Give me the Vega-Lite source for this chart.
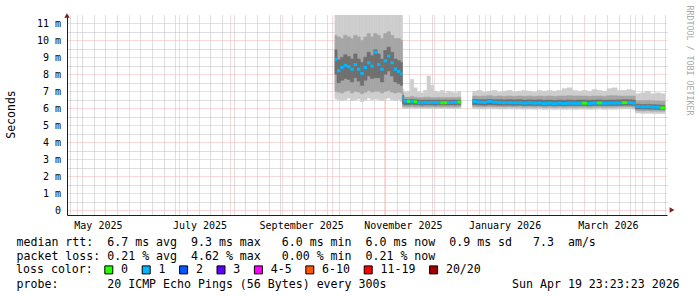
{
"$schema": "https://vega.github.io/schema/vega-lite/v6.json",
"width": 600, "height": 200,
"autosize": {"type": "none"},
"padding": {"left": 67, "top": 15, "right": 30, "bottom": 82},
"background": "#ffffff",
"config": {"view": {"stroke": null}, "font": "DejaVu Sans Mono",
  "axis": {"labelFont": "DejaVu Sans Mono", "titleFont": "DejaVu Sans Mono", "titleFontWeight": "normal", "labelColor": "#000000", "titleColor": "#000000"}},
"datasets": {
"ping": [
{"t":"2025-10-02T18:00","t2":"2025-10-04T00:00","mn":6.55,"lo":7.0,"q1":8.0,"md":8.87,"q3":9.45,"hi":10.3,"mx":11.6,"loss":"1"},
{"t":"2025-10-04T00:00","t2":"2025-10-06T00:00","mn":6.5,"lo":6.95,"q1":7.5,"md":8.21,"q3":8.85,"hi":10.2,"mx":11.6,"loss":"1"},
{"t":"2025-10-06T00:00","t2":"2025-10-08T00:00","mn":6.45,"lo":6.9,"q1":7.65,"md":8.4,"q3":9.0,"hi":10.1,"mx":11.6,"loss":"1"},
{"t":"2025-10-08T00:00","t2":"2025-10-10T00:00","mn":6.5,"lo":7.0,"q1":7.75,"md":8.53,"q3":9.15,"hi":10.3,"mx":11.6,"loss":"1"},
{"t":"2025-10-10T00:00","t2":"2025-10-12T00:00","mn":6.6,"lo":7.05,"q1":7.7,"md":8.45,"q3":9.05,"hi":10.2,"mx":11.6,"loss":"1"},
{"t":"2025-10-12T00:00","t2":"2025-10-14T00:00","mn":6.45,"lo":6.9,"q1":7.55,"md":8.3,"q3":8.9,"hi":10.1,"mx":11.6,"loss":"1"},
{"t":"2025-10-14T00:00","t2":"2025-10-16T00:00","mn":6.5,"lo":7.0,"q1":7.8,"md":8.58,"q3":9.2,"hi":10.3,"mx":11.6,"loss":"1"},
{"t":"2025-10-16T00:00","t2":"2025-10-18T00:00","mn":6.55,"lo":6.95,"q1":7.6,"md":8.3,"q3":8.9,"hi":10.2,"mx":11.6,"loss":"1"},
{"t":"2025-10-18T00:00","t2":"2025-10-20T00:00","mn":6.4,"lo":6.85,"q1":7.35,"md":8.05,"q3":8.7,"hi":10.0,"mx":11.6,"loss":"1"},
{"t":"2025-10-20T00:00","t2":"2025-10-22T00:00","mn":6.5,"lo":6.95,"q1":7.65,"md":8.4,"q3":9.0,"hi":10.2,"mx":11.6,"loss":"1"},
{"t":"2025-10-22T00:00","t2":"2025-10-24T00:00","mn":6.6,"lo":7.05,"q1":7.9,"md":8.68,"q3":9.3,"hi":10.4,"mx":11.6,"loss":"1"},
{"t":"2025-10-24T00:00","t2":"2025-10-26T00:00","mn":6.5,"lo":6.95,"q1":7.75,"md":8.48,"q3":9.1,"hi":10.2,"mx":11.6,"loss":"1"},
{"t":"2025-10-26T00:00","t2":"2025-10-28T00:00","mn":6.55,"lo":7.0,"q1":7.8,"md":9.3,"q3":9.45,"hi":10.4,"mx":11.6,"loss":"1"},
{"t":"2025-10-28T00:00","t2":"2025-10-30T00:00","mn":6.5,"lo":7.0,"q1":7.8,"md":8.58,"q3":9.2,"hi":10.3,"mx":11.6,"loss":"1"},
{"t":"2025-10-30T00:00","t2":"2025-11-01T00:00","mn":6.45,"lo":6.9,"q1":7.55,"md":8.3,"q3":8.9,"hi":10.1,"mx":11.6,"loss":"1"},
{"t":"2025-11-01T00:00","t2":"2025-11-03T00:00","mn":6.55,"lo":7.0,"q1":8.0,"md":8.79,"q3":9.4,"hi":10.4,"mx":11.6,"loss":"1"},
{"t":"2025-11-03T00:00","t2":"2025-11-05T00:00","mn":6.6,"lo":7.05,"q1":8.2,"md":9.07,"q3":9.6,"hi":10.5,"mx":11.6,"loss":"1"},
{"t":"2025-11-05T00:00","t2":"2025-11-07T00:00","mn":6.5,"lo":6.95,"q1":7.9,"md":8.68,"q3":9.3,"hi":10.3,"mx":11.6,"loss":"1"},
{"t":"2025-11-07T00:00","t2":"2025-11-09T00:00","mn":6.45,"lo":6.9,"q1":7.55,"md":8.3,"q3":8.9,"hi":10.1,"mx":11.6,"loss":"1"},
{"t":"2025-11-09T00:00","t2":"2025-11-11T00:00","mn":6.5,"lo":6.95,"q1":7.45,"md":8.16,"q3":8.8,"hi":10.1,"mx":11.6,"loss":"1"},
{"t":"2025-11-11T00:00","t2":"2025-11-12T06:00","mn":6.4,"lo":6.9,"q1":7.35,"md":8.02,"q3":8.7,"hi":10.0,"mx":11.6,"loss":"1"},
{"t":"2025-11-12T06:00","t2":"2025-11-13T00:00","mn":6.0,"lo":6.1,"q1":6.25,"md":6.62,"q3":6.75,"hi":6.9,"mx":7.1,"loss":"1"},
{"t":"2025-11-13T00:00","t2":"2025-11-15T00:00","mn":5.98,"lo":6.08,"q1":6.2,"md":6.42,"q3":6.52,"hi":6.65,"mx":6.95,"loss":"1"},
{"t":"2025-11-15T00:00","t2":"2025-11-17T00:00","mn":5.97,"lo":6.08,"q1":6.2,"md":6.4,"q3":6.5,"hi":6.65,"mx":7.0,"loss":"0"},
{"t":"2025-11-17T00:00","t2":"2025-11-19T00:00","mn":5.98,"lo":6.1,"q1":6.22,"md":6.4,"q3":6.52,"hi":6.7,"mx":7.7,"loss":"1"},
{"t":"2025-11-19T00:00","t2":"2025-11-21T00:00","mn":5.97,"lo":6.08,"q1":6.2,"md":6.38,"q3":6.5,"hi":6.65,"mx":7.2,"loss":"0"},
{"t":"2025-11-21T00:00","t2":"2025-11-23T00:00","mn":5.98,"lo":6.08,"q1":6.2,"md":6.33,"q3":6.48,"hi":6.62,"mx":6.95,"loss":"1"},
{"t":"2025-11-23T00:00","t2":"2025-11-25T00:00","mn":5.97,"lo":6.07,"q1":6.18,"md":6.32,"q3":6.47,"hi":6.62,"mx":6.9,"loss":"1"},
{"t":"2025-11-25T00:00","t2":"2025-11-27T00:00","mn":5.98,"lo":6.08,"q1":6.2,"md":6.34,"q3":6.48,"hi":6.65,"mx":7.05,"loss":"1"},
{"t":"2025-11-27T00:00","t2":"2025-11-29T00:00","mn":5.97,"lo":6.08,"q1":6.2,"md":6.33,"q3":6.48,"hi":6.65,"mx":7.9,"loss":"1"},
{"t":"2025-11-29T00:00","t2":"2025-12-01T00:00","mn":5.98,"lo":6.08,"q1":6.2,"md":6.34,"q3":6.48,"hi":6.62,"mx":7.35,"loss":"1"},
{"t":"2025-12-01T00:00","t2":"2025-12-03T00:00","mn":5.97,"lo":6.07,"q1":6.18,"md":6.33,"q3":6.47,"hi":6.62,"mx":7.0,"loss":"1"},
{"t":"2025-12-03T00:00","t2":"2025-12-05T00:00","mn":5.98,"lo":6.08,"q1":6.2,"md":6.34,"q3":6.48,"hi":6.63,"mx":6.95,"loss":"1"},
{"t":"2025-12-05T00:00","t2":"2025-12-07T00:00","mn":5.97,"lo":6.07,"q1":6.19,"md":6.32,"q3":6.47,"hi":6.62,"mx":7.05,"loss":"0"},
{"t":"2025-12-07T00:00","t2":"2025-12-09T00:00","mn":5.98,"lo":6.08,"q1":6.2,"md":6.33,"q3":6.48,"hi":6.63,"mx":6.9,"loss":"0"},
{"t":"2025-12-09T00:00","t2":"2025-12-11T00:00","mn":5.97,"lo":6.07,"q1":6.19,"md":6.33,"q3":6.47,"hi":6.62,"mx":7.0,"loss":"1"},
{"t":"2025-12-11T00:00","t2":"2025-12-13T00:00","mn":5.98,"lo":6.08,"q1":6.2,"md":6.34,"q3":6.48,"hi":6.63,"mx":6.95,"loss":"1"},
{"t":"2025-12-13T00:00","t2":"2025-12-15T00:00","mn":5.97,"lo":6.07,"q1":6.19,"md":6.35,"q3":6.48,"hi":6.62,"mx":6.9,"loss":"1"},
{"t":"2025-12-15T06:00","t2":"2025-12-17T06:00","mn":5.98,"lo":6.08,"q1":6.2,"md":6.36,"q3":6.48,"hi":6.65,"mx":7.0,"loss":"0"},
{"t":"2025-12-24T09:00","t2":"2025-12-27T00:00","mn":5.97,"lo":6.1,"q1":6.2,"md":6.4,"q3":6.52,"hi":6.72,"mx":7.0,"loss":"1"},
{"t":"2025-12-27T00:00","t2":"2025-12-30T00:00","mn":5.96,"lo":6.08,"q1":6.19,"md":6.36,"q3":6.5,"hi":6.7,"mx":7.05,"loss":"1"},
{"t":"2025-12-30T00:00","t2":"2026-01-02T00:00","mn":5.95,"lo":6.08,"q1":6.18,"md":6.35,"q3":6.5,"hi":6.72,"mx":6.95,"loss":"1"},
{"t":"2026-01-02T00:00","t2":"2026-01-05T00:00","mn":5.97,"lo":6.1,"q1":6.2,"md":6.4,"q3":6.52,"hi":6.74,"mx":7.0,"loss":"1"},
{"t":"2026-01-05T00:00","t2":"2026-01-08T00:00","mn":5.96,"lo":6.08,"q1":6.19,"md":6.36,"q3":6.5,"hi":6.7,"mx":7.05,"loss":"1"},
{"t":"2026-01-08T00:00","t2":"2026-01-11T00:00","mn":5.95,"lo":6.08,"q1":6.18,"md":6.34,"q3":6.5,"hi":6.72,"mx":6.95,"loss":"1"},
{"t":"2026-01-11T00:00","t2":"2026-01-14T00:00","mn":5.95,"lo":6.07,"q1":6.18,"md":6.33,"q3":6.49,"hi":6.7,"mx":7.0,"loss":"1"},
{"t":"2026-01-14T00:00","t2":"2026-01-17T00:00","mn":5.96,"lo":6.08,"q1":6.18,"md":6.33,"q3":6.5,"hi":6.72,"mx":7.05,"loss":"1"},
{"t":"2026-01-17T00:00","t2":"2026-01-20T00:00","mn":5.95,"lo":6.07,"q1":6.17,"md":6.32,"q3":6.49,"hi":6.7,"mx":6.95,"loss":"1"},
{"t":"2026-01-20T00:00","t2":"2026-01-23T00:00","mn":5.95,"lo":6.08,"q1":6.18,"md":6.33,"q3":6.5,"hi":6.72,"mx":7.0,"loss":"1"},
{"t":"2026-01-23T00:00","t2":"2026-01-26T00:00","mn":5.94,"lo":6.06,"q1":6.16,"md":6.3,"q3":6.48,"hi":6.7,"mx":7.05,"loss":"1"},
{"t":"2026-01-26T00:00","t2":"2026-01-29T00:00","mn":5.95,"lo":6.07,"q1":6.17,"md":6.32,"q3":6.49,"hi":6.72,"mx":7.0,"loss":"1"},
{"t":"2026-01-29T00:00","t2":"2026-02-01T00:00","mn":5.94,"lo":6.06,"q1":6.16,"md":6.3,"q3":6.48,"hi":6.7,"mx":6.95,"loss":"1"},
{"t":"2026-02-01T00:00","t2":"2026-02-04T00:00","mn":5.95,"lo":6.07,"q1":6.17,"md":6.31,"q3":6.49,"hi":6.72,"mx":7.05,"loss":"1"},
{"t":"2026-02-04T00:00","t2":"2026-02-07T00:00","mn":5.93,"lo":6.05,"q1":6.15,"md":6.28,"q3":6.47,"hi":6.7,"mx":7.0,"loss":"1"},
{"t":"2026-02-07T00:00","t2":"2026-02-10T00:00","mn":5.94,"lo":6.06,"q1":6.16,"md":6.3,"q3":6.48,"hi":6.72,"mx":7.05,"loss":"1"},
{"t":"2026-02-10T00:00","t2":"2026-02-13T00:00","mn":5.93,"lo":6.05,"q1":6.15,"md":6.27,"q3":6.46,"hi":6.7,"mx":7.0,"loss":"1"},
{"t":"2026-02-13T00:00","t2":"2026-02-16T00:00","mn":5.94,"lo":6.06,"q1":6.16,"md":6.3,"q3":6.48,"hi":6.72,"mx":7.05,"loss":"1"},
{"t":"2026-02-16T00:00","t2":"2026-02-19T00:00","mn":5.93,"lo":6.05,"q1":6.15,"md":6.28,"q3":6.47,"hi":6.72,"mx":7.15,"loss":"1"},
{"t":"2026-02-19T00:00","t2":"2026-02-22T00:00","mn":5.94,"lo":6.06,"q1":6.16,"md":6.3,"q3":6.48,"hi":6.74,"mx":7.2,"loss":"1"},
{"t":"2026-02-22T00:00","t2":"2026-02-25T00:00","mn":5.93,"lo":6.05,"q1":6.16,"md":6.29,"q3":6.47,"hi":6.72,"mx":7.05,"loss":"1"},
{"t":"2026-02-25T00:00","t2":"2026-02-28T00:00","mn":5.94,"lo":6.06,"q1":6.16,"md":6.3,"q3":6.48,"hi":6.72,"mx":7.0,"loss":"1"},
{"t":"2026-02-28T00:00","t2":"2026-03-03T00:00","mn":5.94,"lo":6.06,"q1":6.16,"md":6.3,"q3":6.48,"hi":6.72,"mx":7.05,"loss":"0"},
{"t":"2026-03-03T00:00","t2":"2026-03-06T00:00","mn":5.93,"lo":6.05,"q1":6.15,"md":6.28,"q3":6.47,"hi":6.7,"mx":7.0,"loss":"1"},
{"t":"2026-03-06T00:00","t2":"2026-03-09T00:00","mn":5.94,"lo":6.06,"q1":6.16,"md":6.3,"q3":6.48,"hi":6.72,"mx":7.1,"loss":"1"},
{"t":"2026-03-09T00:00","t2":"2026-03-12T00:00","mn":5.95,"lo":6.07,"q1":6.17,"md":6.31,"q3":6.49,"hi":6.72,"mx":7.05,"loss":"0"},
{"t":"2026-03-12T00:00","t2":"2026-03-15T00:00","mn":5.93,"lo":6.05,"q1":6.16,"md":6.29,"q3":6.47,"hi":6.7,"mx":7.0,"loss":"1"},
{"t":"2026-03-15T00:00","t2":"2026-03-18T00:00","mn":5.94,"lo":6.06,"q1":6.16,"md":6.3,"q3":6.48,"hi":6.74,"mx":7.15,"loss":"1"},
{"t":"2026-03-18T00:00","t2":"2026-03-21T00:00","mn":5.94,"lo":6.06,"q1":6.16,"md":6.3,"q3":6.48,"hi":6.74,"mx":7.2,"loss":"1"},
{"t":"2026-03-21T00:00","t2":"2026-03-24T00:00","mn":5.95,"lo":6.07,"q1":6.17,"md":6.31,"q3":6.49,"hi":6.72,"mx":7.05,"loss":"1"},
{"t":"2026-03-24T00:00","t2":"2026-03-27T00:00","mn":5.96,"lo":6.08,"q1":6.18,"md":6.33,"q3":6.5,"hi":6.72,"mx":7.05,"loss":"0"},
{"t":"2026-03-27T00:00","t2":"2026-03-30T00:00","mn":5.96,"lo":6.08,"q1":6.18,"md":6.33,"q3":6.5,"hi":6.72,"mx":7.1,"loss":"1"},
{"t":"2026-03-30T00:00","t2":"2026-04-01T00:00","mn":5.94,"lo":6.06,"q1":6.16,"md":6.3,"q3":6.48,"hi":6.72,"mx":7.05,"loss":"1"},
{"t":"2026-04-01T00:00","t2":"2026-04-04T00:00","mn":5.72,"lo":5.85,"q1":5.96,"md":6.1,"q3":6.24,"hi":6.45,"mx":6.85,"loss":"1"},
{"t":"2026-04-04T00:00","t2":"2026-04-07T00:00","mn":5.7,"lo":5.84,"q1":5.95,"md":6.08,"q3":6.22,"hi":6.45,"mx":6.9,"loss":"1"},
{"t":"2026-04-07T00:00","t2":"2026-04-10T00:00","mn":5.71,"lo":5.85,"q1":5.95,"md":6.09,"q3":6.23,"hi":6.46,"mx":7.0,"loss":"1"},
{"t":"2026-04-10T00:00","t2":"2026-04-13T00:00","mn":5.7,"lo":5.83,"q1":5.94,"md":6.07,"q3":6.21,"hi":6.44,"mx":6.85,"loss":"1"},
{"t":"2026-04-13T00:00","t2":"2026-04-16T00:00","mn":5.69,"lo":5.83,"q1":5.93,"md":6.06,"q3":6.2,"hi":6.43,"mx":6.9,"loss":"1"},
{"t":"2026-04-16T00:00","t2":"2026-04-18T18:00","mn":5.68,"lo":5.82,"q1":5.92,"md":6.02,"q3":6.18,"hi":6.42,"mx":6.85,"loss":"0"}
],
"xarrow": [{"t": "2026-04-19T23:23:23", "ms": 0}],
"yarrow": [{"t": "2025-04-24T23:23:23", "ms": 11.2}]
},
"resolve": {"axis": {"x": "independent", "y": "independent"}},
"layer": [
{
 "data": {"name": "ping"},
 "mark": {"type": "rect", "color": "#cdcdcd", "stroke": "#cdcdcd", "strokeWidth": 0.6, "clip": true},
 "encoding": {
  "x": {"field": "t", "type": "temporal",
   "scale": {"domain": [{"year":2025,"month":4,"date":24,"hours":23,"minutes":23,"seconds":23},{"year":2026,"month":4,"date":19,"hours":23,"minutes":23,"seconds":23}], "nice": false},
   "axis": {"orient": "bottom", "grid": true, "gridColor": "#bdbdbd", "gridDash": [1,1], "gridWidth": 1, "domain": false, "labels": false, "ticks": false, "title": null,
    "values": [
     {"year":2025,"month":4,"date":27},{"year":2025,"month":5,"date":4},{"year":2025,"month":5,"date":11},{"year":2025,"month":5,"date":18},{"year":2025,"month":5,"date":25},
     {"year":2025,"month":6,"date":8},{"year":2025,"month":6,"date":15},{"year":2025,"month":6,"date":22},{"year":2025,"month":6,"date":29},
     {"year":2025,"month":7,"date":6},{"year":2025,"month":7,"date":13},{"year":2025,"month":7,"date":20},{"year":2025,"month":7,"date":27},
     {"year":2025,"month":8,"date":3},{"year":2025,"month":8,"date":10},{"year":2025,"month":8,"date":17},{"year":2025,"month":8,"date":24},{"year":2025,"month":8,"date":31},
     {"year":2025,"month":9,"date":7},{"year":2025,"month":9,"date":14},{"year":2025,"month":9,"date":21},{"year":2025,"month":9,"date":28},
     {"year":2025,"month":10,"date":5},{"year":2025,"month":10,"date":12},{"year":2025,"month":10,"date":19},{"year":2025,"month":10,"date":26},
     {"year":2025,"month":11,"date":2},{"year":2025,"month":11,"date":9},{"year":2025,"month":11,"date":16},{"year":2025,"month":11,"date":23},{"year":2025,"month":11,"date":30},
     {"year":2025,"month":12,"date":7},{"year":2025,"month":12,"date":14},{"year":2025,"month":12,"date":21},{"year":2025,"month":12,"date":28},
     {"year":2026,"month":1,"date":4},{"year":2026,"month":1,"date":11},{"year":2026,"month":1,"date":18},{"year":2026,"month":1,"date":25},
     {"year":2026,"month":2,"date":8},{"year":2026,"month":2,"date":15},{"year":2026,"month":2,"date":22},
     {"year":2026,"month":3,"date":8},{"year":2026,"month":3,"date":15},{"year":2026,"month":3,"date":22},{"year":2026,"month":3,"date":29},
     {"year":2026,"month":4,"date":5},{"year":2026,"month":4,"date":12},{"year":2026,"month":4,"date":19}
    ]}},
  "x2": {"field": "t2"},
  "y": {"field": "mn", "type": "quantitative", "scale": {"domain": [0, 11.2], "nice": false, "zero": false},
   "axis": {"orient": "right", "values": [0.5,1.5,2.5,3.5,4.5,5.5,6.5,7.5,8.5,9.5,10.5], "grid": true, "gridColor": "#bdbdbd", "gridDash": [1,1], "domain": false, "labels": false, "ticks": false,
    "title": "RRDTOOL / TOBI OETIKER", "titleAngle": 90, "titleX": 21, "titleY": 45, "titleAlign": "center", "titleBaseline": "middle", "titleFontSize": 8.3, "titleColor": "#a8a8a8"}},
  "y2": {"field": "mx"}
 }
},
{
 "data": {"name": "ping"},
 "mark": {"type": "rect", "color": "#a6a6a6", "stroke": "#a6a6a6", "strokeWidth": 0.6, "clip": true},
 "encoding": {
  "x": {"field": "t", "type": "temporal",
   "scale": {"domain": [{"year":2025,"month":4,"date":24,"hours":23,"minutes":23,"seconds":23},{"year":2026,"month":4,"date":19,"hours":23,"minutes":23,"seconds":23}], "nice": false},
   "axis": {"orient": "bottom", "grid": false, "ticks": false, "tickSize": 0, "labelPadding": 5.5, "labelFontSize": 10, "labelFlush": false, "labelOverlap": false, "labelBound": false,
    "labelExpr": "timeFormat(datum.value, '%B %Y')",
    "values": [{"year":2025,"month":5,"date":13,"hours":12},{"year":2025,"month":7,"date":13,"hours":12},{"year":2025,"month":9,"date":12,"hours":12},{"year":2025,"month":11,"date":12,"hours":12},{"year":2026,"month":1,"date":12,"hours":12},{"year":2026,"month":3,"date":15,"hours":12}],
    "domain": true, "domainColor": "#1f1f1f", "domainWidth": 1,
    "title": [
     "median rtt:\u00a0\u00a06.7 ms avg\u00a0\u00a09.3 ms max\u00a0\u00a0\u00a06.0 ms min\u00a0\u00a06.0 ms now\u00a0\u00a00.9 ms sd\u00a0\u00a0\u00a07.3\u00a0\u00a0am/s",
     "packet loss:\u00a00.21 % avg\u00a0\u00a04.62 % max\u00a0\u00a0\u00a00.00 % min\u00a0\u00a00.21 % now"
    ],
    "titleX": -51, "titleY": 30, "titleAlign": "left", "titleAnchor": "start", "titleBaseline": "alphabetic", "titleFontSize": 11.6, "titleLineHeight": 14}},
  "x2": {"field": "t2"},
  "y": {"field": "lo", "type": "quantitative", "scale": {"domain": [0, 11.2], "nice": false, "zero": false},
   "axis": {"orient": "left", "values": [0,1,2,3,4,5,6,7,8,9,10,11], "grid": true, "gridColor": "#f0b4b4", "gridDash": [1,1], "gridWidth": 1,
    "ticks": false, "tickSize": 0, "labelPadding": 6.5, "labelFontSize": 10,
    "labelExpr": "datum.value == 0 ? '0\u00a0\u00a0' : datum.value + ' m'",
    "domain": true, "domainColor": "#1f1f1f", "domainWidth": 1,
    "title": "Seconds", "titleFontSize": 11.5, "titleX": -56, "titleY": 99, "titleAngle": -90, "titleAlign": "center", "titleBaseline": "middle"}},
  "y2": {"field": "hi"}
 }
},
{
 "data": {"name": "ping"},
 "mark": {"type": "rect", "color": "#707070", "stroke": "#707070", "strokeWidth": 0.6, "clip": true},
 "encoding": {
  "x": {"field": "t", "type": "temporal",
   "scale": {"domain": [{"year":2025,"month":4,"date":24,"hours":23,"minutes":23,"seconds":23},{"year":2026,"month":4,"date":19,"hours":23,"minutes":23,"seconds":23}], "nice": false},
   "axis": {"orient": "bottom", "grid": true, "gridColor": "#f0b4b4", "gridDash": [1,1], "gridWidth": 1, "domain": false, "labels": false, "ticks": false,
    "title": "probe:\u00a0\u00a0\u00a0\u00a0\u00a0\u00a0\u00a020 ICMP Echo Pings (56 Bytes) every 300s\u00a0\u00a0\u00a0\u00a0\u00a0\u00a0\u00a0\u00a0\u00a0\u00a0\u00a0\u00a0\u00a0\u00a0\u00a0\u00a0\u00a0\u00a0Sun Apr 19 23:23:23 2026",
    "titleX": -51, "titleY": 72, "titleAlign": "left", "titleAnchor": "start", "titleBaseline": "alphabetic", "titleFontSize": 11.6,
    "values": [{"year":2025,"month":5,"date":1},{"year":2025,"month":6,"date":1},{"year":2025,"month":7,"date":1},{"year":2025,"month":8,"date":1},{"year":2025,"month":9,"date":1},{"year":2025,"month":10,"date":1},{"year":2025,"month":11,"date":1},{"year":2025,"month":12,"date":1},{"year":2026,"month":1,"date":1},{"year":2026,"month":2,"date":1},{"year":2026,"month":3,"date":1},{"year":2026,"month":4,"date":1}]}},
  "x2": {"field": "t2"},
  "y": {"field": "q1", "type": "quantitative", "scale": {"domain": [0, 11.2], "nice": false, "zero": false}, "axis": null},
  "y2": {"field": "q3"}
 }
},
{
 "data": {"name": "ping"},
 "mark": {"type": "bar", "height": 3, "clip": true},
 "encoding": {
  "x": {"field": "t", "type": "temporal",
   "scale": {"domain": [{"year":2025,"month":4,"date":24,"hours":23,"minutes":23,"seconds":23},{"year":2026,"month":4,"date":19,"hours":23,"minutes":23,"seconds":23}], "nice": false}, "axis": null},
  "x2": {"field": "t2"},
  "y": {"field": "md", "type": "quantitative", "scale": {"domain": [0, 11.2], "nice": false, "zero": false}, "axis": null},
  "color": {"field": "loss", "type": "nominal",
   "scale": {"domain": ["0","1","2","3","4-5","6-10","11-19","20/20"], "range": ["#26ff00","#00b8ff","#0059ff","#5e00ff","#ff00ff","#ff5500","#ff0000","#a00000"]},
   "legend": {"orient": "none", "legendX": -51, "legendY": 249, "direction": "horizontal", "columns": 8, "padding": 0,
    "title": "loss color:", "titleOrient": "left", "titlePadding": 10, "titleFont": "DejaVu Sans Mono", "titleFontSize": 11.6, "titleFontWeight": "normal", "titleColor": "#000000", "titleAnchor": "middle", "titleBaseline": "middle",
    "symbolType": "square", "symbolSize": 64, "symbolStrokeColor": "#000000", "symbolStrokeWidth": 1, "symbolOpacity": 1,
    "labelFont": "DejaVu Sans Mono", "labelFontSize": 11.6, "labelColor": "#000000", "labelOffset": 6.5, "columnPadding": 10.4, "labelLimit": 200}}
 }
},
{
 "data": {"name": "xarrow"},
 "mark": {"type": "point", "shape": "triangle-right", "filled": true, "size": 30, "color": "#801f1f", "opacity": 1, "xOffset": 5, "clip": false},
 "encoding": {
  "x": {"field": "t", "type": "temporal",
   "scale": {"domain": [{"year":2025,"month":4,"date":24,"hours":23,"minutes":23,"seconds":23},{"year":2026,"month":4,"date":19,"hours":23,"minutes":23,"seconds":23}], "nice": false}, "axis": null},
  "y": {"field": "ms", "type": "quantitative", "scale": {"domain": [0, 11.2], "nice": false, "zero": false}, "axis": null}
 }
},
{
 "data": {"name": "yarrow"},
 "mark": {"type": "point", "shape": "triangle-up", "filled": true, "size": 30, "color": "#801f1f", "opacity": 1, "yOffset": -4.5, "clip": false},
 "encoding": {
  "x": {"field": "t", "type": "temporal",
   "scale": {"domain": [{"year":2025,"month":4,"date":24,"hours":23,"minutes":23,"seconds":23},{"year":2026,"month":4,"date":19,"hours":23,"minutes":23,"seconds":23}], "nice": false}, "axis": null},
  "y": {"field": "ms", "type": "quantitative", "scale": {"domain": [0, 11.2], "nice": false, "zero": false}, "axis": null}
 }
}
]
}
